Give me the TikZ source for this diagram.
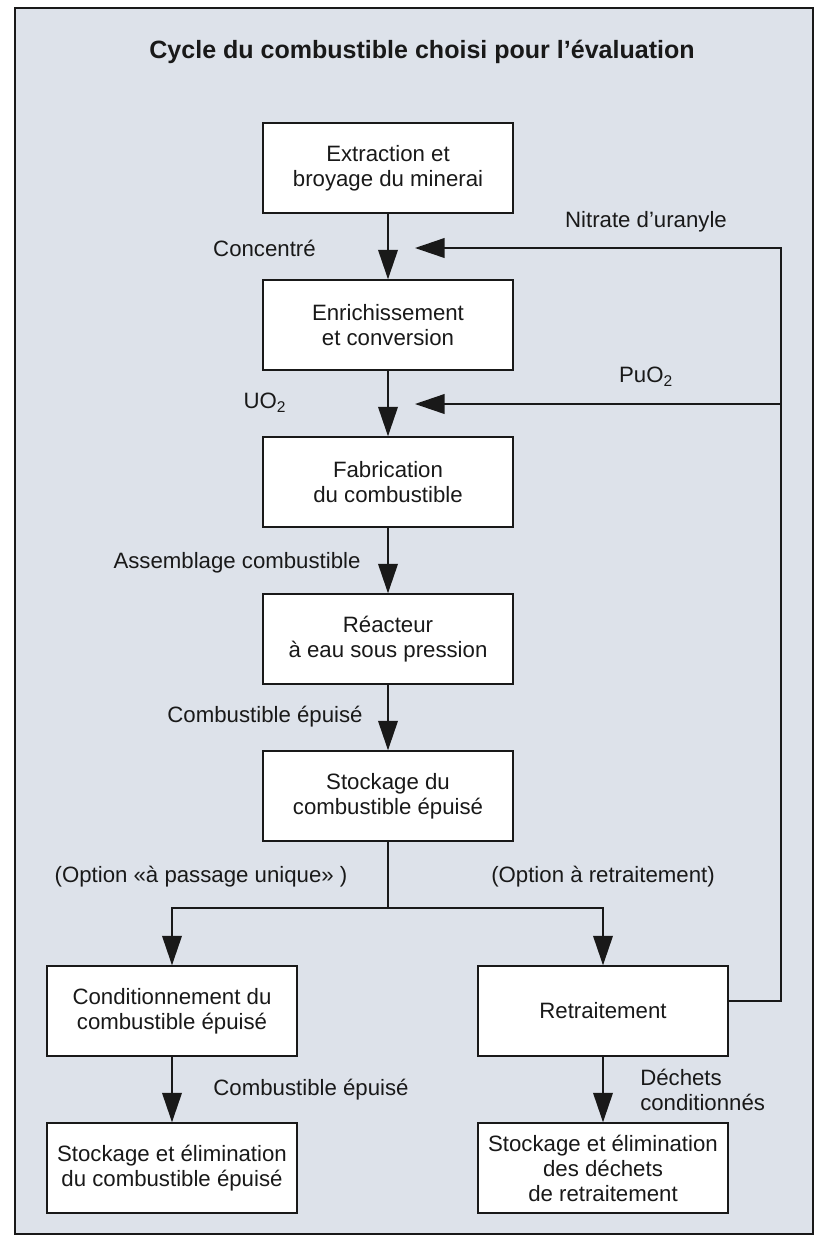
\documentclass[tikz,border=0pt]{standalone}
\usepackage{fontspec}
\setmainfont{Liberation Sans}
\usepackage{tikz}
\usetikzlibrary{arrows.meta,positioning,calc}
\definecolor{cyclebg}{RGB}{221,226,234}
\definecolor{cycleink}{RGB}{25,25,25}

\begin{document}
\begin{tikzpicture}[
  x=0.025cm, y=-0.025cm,
  every node/.style={font=\fontsize{15.8}{17.8}\selectfont, text=cycleink},
  stage/.style={draw=cycleink, line width=1.3pt, fill=white,
                minimum width=6.25cm, minimum height=2.24cm,
                align=center, inner sep=2pt},
  flow/.style={draw=cycleink, line width=1.1pt,
               -{Triangle[length=21pt,width=14pt]}},
  link/.style={draw=cycleink, line width=1.1pt},
  tag/.style={inner sep=0pt},
  heading/.style={font=\fontsize{17.8}{20}\selectfont\bfseries},
]

%% ── Frame ──────────────────────────────────────────────────────────────────
\useasboundingbox (0,0) rectangle (816,1238);
\draw[fill=cyclebg, draw=cycleink, line width=1.4pt] (15,8) rectangle (813,1234);

\node[heading] (titre) at (422,52) {Cycle du combustible choisi pour l’évaluation};

%% ── Main chain ─────────────────────────────────────────────────────────────
\node[stage] (mine)   at (388,168) {Extraction et\\broyage du minerai};
\node[stage] (enrich) at (388,325) {Enrichissement\\et conversion};
\node[stage] (fab)    at (388,482) {Fabrication\\du combustible};
\node[stage] (reac)   at (388,639) {Réacteur\\à eau sous pression};
\node[stage] (stock)  at (388,796) {Stockage du\\combustible épuisé};

%% ── Two options ────────────────────────────────────────────────────────────
\node[stage] (cond)  at (172,1011) {Conditionnement du\\combustible épuisé};
\node[stage] (retr)  at (603,1011) {Retraitement};
\node[stage] (elimc) at (172,1168) {Stockage et élimination\\du combustible épuisé};
\node[stage] (elimd) at (603,1168) {Stockage et élimination\\des déchets\\de retraitement};

%% ── Flows ──────────────────────────────────────────────────────────────────
\draw[flow] (mine) -- (enrich);
\draw[flow] (enrich) -- (fab);
\draw[flow] (fab) -- (reac);
\draw[flow] (reac) -- (stock);

\coordinate (split) at (388,908);
\draw[link] (stock) -- (split);
\draw[flow] (split) -| (cond);
\draw[flow] (split) -| (retr);
\draw[flow] (cond) -- (elimc);
\draw[flow] (retr) -- (elimd);

%% ── Recycling loop ─────────────────────────────────────────────────────────
\coordinate (loop)  at (781,248);
\coordinate (nitin) at (415,248);
\coordinate (puin)  at (415,404);
\draw[flow] ([yshift=7pt]retr.east) -| (loop) -- (nitin);
\draw[flow] (loop |- puin) -- (puin);

%% ── Labels ─────────────────────────────────────────────────────────────────
\node[tag, anchor=east] (lconc) at (316,248) {Concentré};
\node[tag] (lnit)   at (646,222)  {Nitrate d’uranyle};
\node[tag] (lpu)    at (646,377)  {PuO\textsubscript{2}};
\node[tag] (luo)    at (265,403)  {UO\textsubscript{2}};
\node[tag] (lass)   at (237,563)  {Assemblage combustible};
\node[tag] (lcomb)  at (265,717)  {Combustible épuisé};
\node[tag] (lopt1)  at (201,877)  {(Option «à passage unique» )};
\node[tag] (lopt2)  at (603,877)  {(Option à retraitement)};
\node[tag] (lcomb2) at (311,1090) {Combustible épuisé};
\node[tag, anchor=west, align=left] (ldech) at (640,1090) {Déchets\\conditionnés};

\end{tikzpicture}
\end{document}
